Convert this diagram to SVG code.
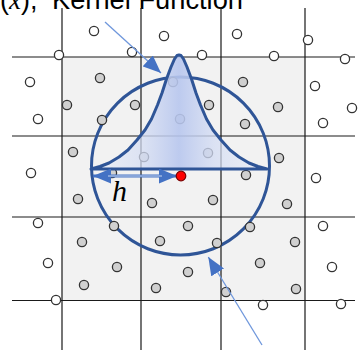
<svg xmlns="http://www.w3.org/2000/svg" width="363" height="350" viewBox="0 0 363 350">
<style>
.grid{stroke:#1a1a1a;stroke-width:1.2;fill:none}
.w{fill:#ffffff;stroke:#333;stroke-width:1.3}
.g{fill:#d0d0d0;stroke:#333;stroke-width:1.3}
.blue{stroke:#2f5597;stroke-width:3;fill:none}
.thin{stroke:#6f97dc;stroke-width:1.3;fill:none}
.title{font-family:"Liberation Sans",Arial,sans-serif;font-size:27px;fill:#000}
</style>
<defs>
<marker id="ah" markerUnits="userSpaceOnUse" markerWidth="18" markerHeight="15" refX="18" refY="7.5" orient="auto-start-reverse" viewBox="0 0 18 15">
<path d="M0,0 L18,7.5 L0,15 z" fill="#4472c4"/>
</marker>
<linearGradient id="kg" gradientUnits="userSpaceOnUse" x1="91" y1="0" x2="267" y2="0">
<stop offset="0" stop-color="#e6ebf7" stop-opacity="0.5"/>
<stop offset="0.3" stop-color="#d3dcf3" stop-opacity="0.75"/>
<stop offset="0.5" stop-color="#b7c6ee" stop-opacity="0.9"/>
<stop offset="0.7" stop-color="#d3dcf3" stop-opacity="0.75"/>
<stop offset="1" stop-color="#e6ebf7" stop-opacity="0.5"/>
</linearGradient>
</defs>
<rect x="0" y="0" width="363" height="350" fill="#ffffff"/>
<text class="title" x="0" y="9">(<tspan font-family="Liberation Serif" font-style="italic">x</tspan>),</text>
<text class="title" x="52" y="9" textLength="191" lengthAdjust="spacingAndGlyphs">Kernel Function</text>
<g id="cells">
<rect x="62" y="57" width="243" height="243.5" fill="#f2f2f2"/>
</g>
<g id="grid">
<path class="grid" d="M62,8V350M141,8V350M221,8V350M305,8V350M12,57H355M12,136H355M12,217H355M12,300.5H355"/>
</g>
<g id="circle">
<circle class="blue" cx="180.5" cy="166" r="89"/>
</g>
<g id="points">
<circle class="w" cx="94" cy="31" r="4.6"/>
<circle class="w" cx="164" cy="36" r="4.6"/>
<circle class="w" cx="237" cy="34" r="4.6"/>
<circle class="w" cx="308" cy="40" r="4.6"/>
<circle class="w" cx="59" cy="55" r="4.6"/>
<circle class="w" cx="132" cy="52" r="4.6"/>
<circle class="w" cx="202" cy="55" r="4.6"/>
<circle class="w" cx="274" cy="56" r="4.6"/>
<circle class="w" cx="345" cy="59" r="4.6"/>
<circle class="w" cx="30" cy="82" r="4.6"/>
<circle class="w" cx="315" cy="86" r="4.6"/>
<circle class="w" cx="352" cy="108" r="4.6"/>
<circle class="w" cx="38" cy="119" r="4.6"/>
<circle class="w" cx="323" cy="123" r="4.6"/>
<circle class="w" cx="31" cy="173" r="4.6"/>
<circle class="w" cx="316" cy="178" r="4.6"/>
<circle class="w" cx="38" cy="223" r="4.6"/>
<circle class="w" cx="323" cy="226" r="4.6"/>
<circle class="w" cx="48" cy="263" r="4.6"/>
<circle class="w" cx="332" cy="267" r="4.6"/>
<circle class="w" cx="56" cy="300" r="4.6"/>
<circle class="w" cx="263" cy="305" r="4.6"/>
<circle class="w" cx="341" cy="304" r="4.6"/>
<circle class="g" cx="100" cy="78" r="4.6"/>
<circle class="g" cx="173" cy="82" r="4.6"/>
<circle class="g" cx="243" cy="82" r="4.6"/>
<circle class="g" cx="67" cy="105" r="4.6"/>
<circle class="g" cx="135" cy="105" r="4.6"/>
<circle class="g" cx="209" cy="105" r="4.6"/>
<circle class="g" cx="278" cy="107" r="4.6"/>
<circle class="g" cx="102" cy="120" r="4.6"/>
<circle class="g" cx="180" cy="119" r="4.6"/>
<circle class="g" cx="245" cy="124" r="4.6"/>
<circle class="g" cx="73" cy="152" r="4.6"/>
<circle class="g" cx="144" cy="157" r="4.6"/>
<circle class="g" cx="208" cy="153" r="4.6"/>
<circle class="g" cx="279" cy="158" r="4.6"/>
<circle class="g" cx="112" cy="173" r="4.6"/>
<circle class="g" cx="246" cy="175" r="4.6"/>
<circle class="g" cx="78" cy="199" r="4.6"/>
<circle class="g" cx="152" cy="203" r="4.6"/>
<circle class="g" cx="213" cy="200" r="4.6"/>
<circle class="g" cx="287" cy="204" r="4.6"/>
<circle class="g" cx="114" cy="226" r="4.6"/>
<circle class="g" cx="188" cy="226" r="4.6"/>
<circle class="g" cx="250" cy="227" r="4.6"/>
<circle class="g" cx="82" cy="242" r="4.6"/>
<circle class="g" cx="160" cy="241" r="4.6"/>
<circle class="g" cx="217" cy="243" r="4.6"/>
<circle class="g" cx="295" cy="242" r="4.6"/>
<circle class="g" cx="117" cy="267" r="4.6"/>
<circle class="g" cx="188" cy="272" r="4.6"/>
<circle class="g" cx="260" cy="263" r="4.6"/>
<circle class="g" cx="84" cy="285" r="4.6"/>
<circle class="g" cx="156" cy="288" r="4.6"/>
<circle class="g" cx="226" cy="292" r="4.6"/>
<circle class="g" cx="296" cy="289" r="4.6"/>
</g>
<g id="kernel">
<path d="M91,169 L100,166.5 L109,163 L119,157 L128,150 L137,140 L145,130 L151.5,119 L157.5,105 L162,93 L166.5,79 L171,67 L174.5,59 L177,55.5 L179,55 L181,55.5 L183.5,59 L187,67 L191.5,79 L196,93 L200.5,105 L206.5,119 L213,130 L221,140 L230,150 L239,157 L249,163 L258,166.5 L267,169 Z" fill="url(#kg)" stroke="#2f5597" stroke-width="3" stroke-linejoin="round"/>
</g>
<g id="connectors">
<line class="thin" x1="105" y1="22" x2="161" y2="73" marker-end="url(#ah)"/>
<line class="thin" x1="262" y1="345" x2="208.3" y2="257" marker-end="url(#ah)"/>
<line x1="93" y1="176" x2="177" y2="176" stroke="#4472c4" stroke-width="3" marker-start="url(#ah)" marker-end="url(#ah)"/>
<line x1="108" y1="176" x2="162" y2="176" stroke="#c9d7f0" stroke-width="1"/>
</g>
<g id="center">
<circle cx="181" cy="176" r="4.8" fill="#ff0000" stroke="#7a0000" stroke-width="1.2"/>
</g>
<text x="112" y="201" font-family="Liberation Serif,serif" font-style="italic" font-size="30" fill="#000">h</text>
</svg>
